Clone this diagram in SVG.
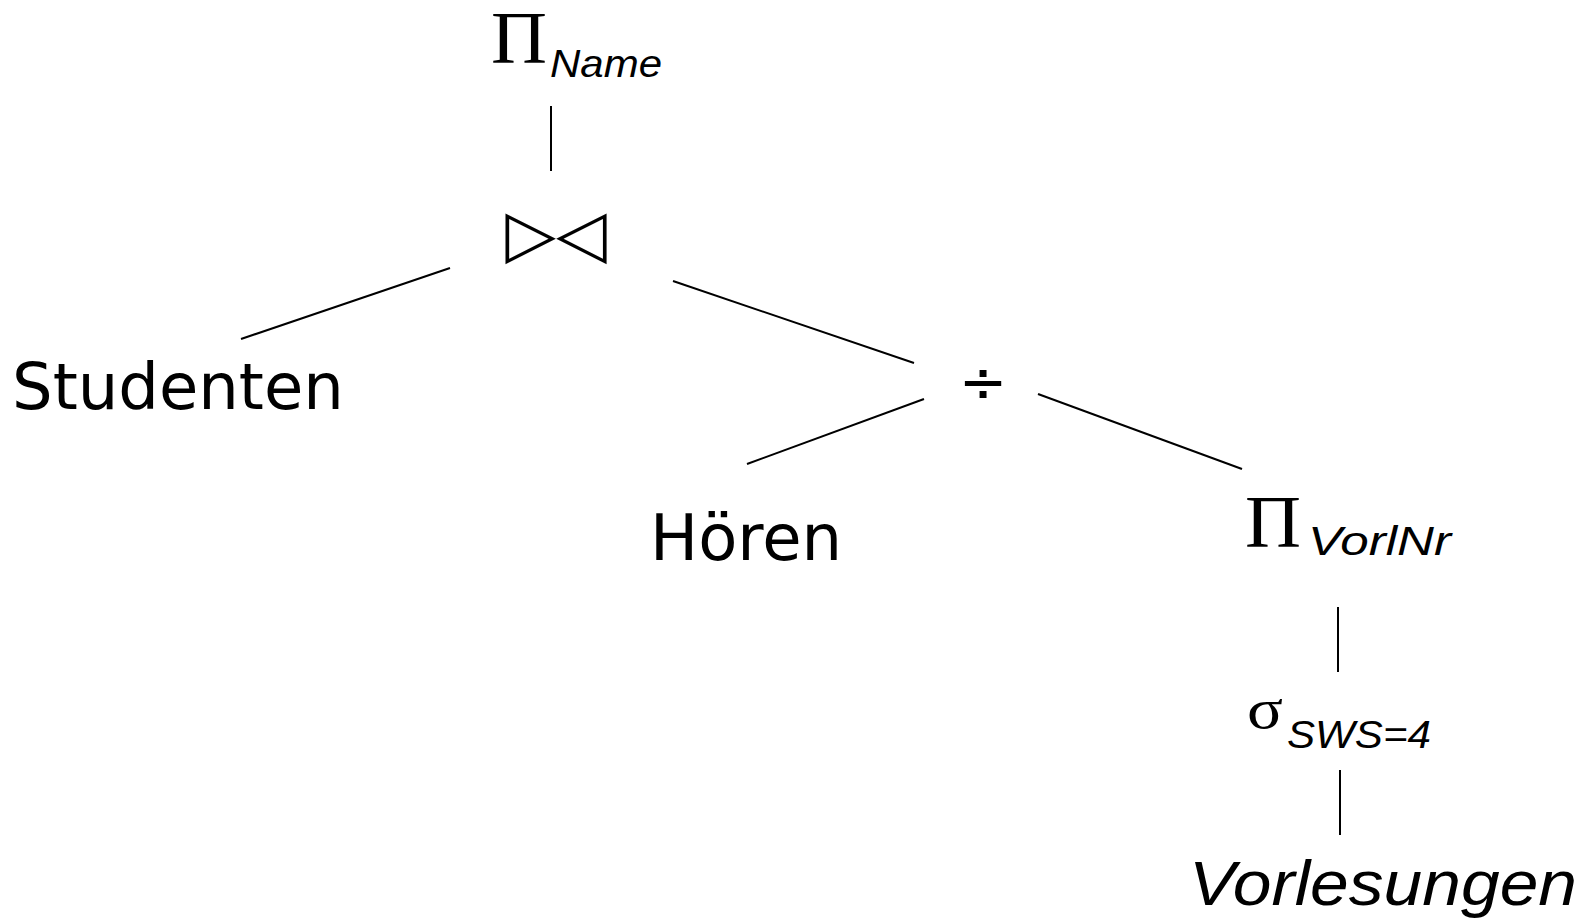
<svg xmlns="http://www.w3.org/2000/svg" width="1592" height="922" viewBox="0 0 1592 922">
<style>
.edge{stroke:#000;stroke-width:2;fill:none}
.op{font-family:"Liberation Serif","Times New Roman",serif;fill:#000}
.sub{font-family:"Liberation Sans",Arial,sans-serif;font-style:italic;fill:#000}
.rel{font-family:"DejaVu Sans",Verdana,sans-serif;fill:#000}
.sym{font-family:"DejaVu Sans",sans-serif;fill:#000}
</style>
<rect width="1592" height="922" fill="#fff"/>
<g id="connectors">
<line class="edge" x1="551" y1="106" x2="551" y2="171"/>
<line class="edge" x1="241" y1="339" x2="450" y2="268"/>
<line class="edge" x1="673" y1="281" x2="914" y2="363"/>
<line class="edge" x1="924" y1="399" x2="747" y2="464"/>
<line class="edge" x1="1038" y1="394" x2="1242" y2="469"/>
<line class="edge" x1="1338" y1="607" x2="1338" y2="672"/>
<line class="edge" x1="1340" y1="770" x2="1340" y2="835"/>
</g>
<g id="proj-name">
<text class="op" x="491" y="63" font-size="75" textLength="56" lengthAdjust="spacingAndGlyphs">Π</text>
<text class="sub" x="550" y="77" font-size="38" textLength="112" lengthAdjust="spacingAndGlyphs">Name</text>
</g>
<g id="join">
<text class="sym" x="556" y="256" font-size="66" text-anchor="middle">▷◁</text>
</g>
<g id="studenten">
<text class="rel" x="12" y="409" font-size="64">Studenten</text>
</g>
<g id="division">
<text class="sym" x="983" y="402" font-size="58" text-anchor="middle">÷</text>
</g>
<g id="hoeren">
<text class="rel" x="650" y="560" font-size="64">Hören</text>
</g>
<g id="proj-vorlnr">
<text class="op" x="1245" y="547" font-size="75" textLength="56" lengthAdjust="spacingAndGlyphs">Π</text>
<text class="sub" x="1308" y="555" font-size="40" textLength="143" lengthAdjust="spacingAndGlyphs">VorlNr</text>
</g>
<g id="select">
<text class="op" x="1247" y="728" font-size="56" textLength="36" lengthAdjust="spacingAndGlyphs">σ</text>
<text class="sub" x="1287" y="748" font-size="39" textLength="144" lengthAdjust="spacingAndGlyphs">SWS=4</text>
</g>
<g id="vorlesungen">
<text class="sub" x="1189" y="905" font-size="63" textLength="388" lengthAdjust="spacingAndGlyphs">Vorlesungen</text>
</g>
</svg>
